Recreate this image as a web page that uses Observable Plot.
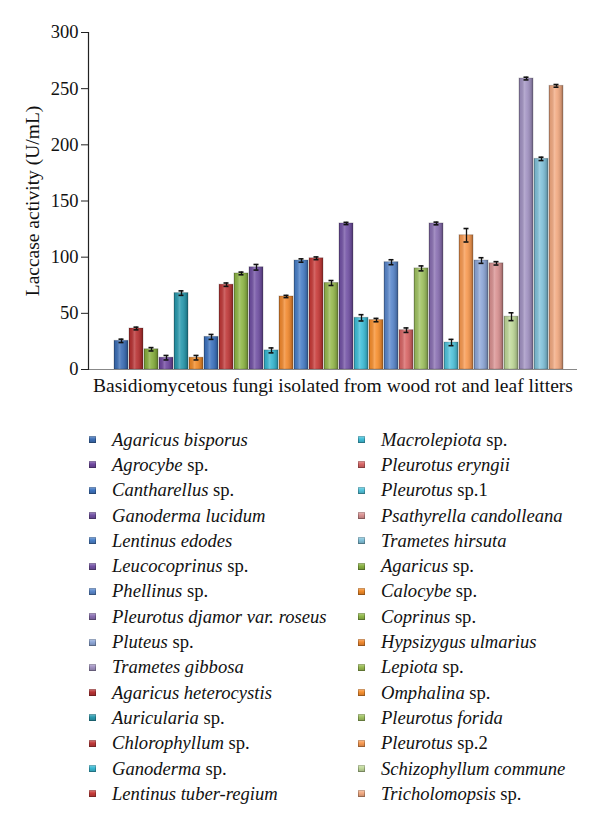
<!DOCTYPE html>
<html>
<head>
<meta charset="utf-8">
<script src="https://cdn.jsdelivr.net/npm/d3@7"></script>
<script src="https://cdn.jsdelivr.net/npm/@observablehq/plot@0.6"></script>
<style>
  html, body { margin: 0; padding: 0; background: #fff; }
  #chart svg { display: block; }
  #chart svg, #chart svg text { font-family: "Liberation Serif", "DejaVu Serif", serif !important; }
  #legend {
    display: grid;
    grid-template-rows: repeat(15, 25.3px);
    grid-auto-flow: column;
    grid-template-columns: 269px 240px;
    padding-left: 89px;
    padding-top: 27px;
    font-family: "Liberation Serif", "DejaVu Serif", serif;
    font-size: 18.6px;
    color: #111;
  }
  .item { display: flex; align-items: center; white-space: nowrap; }
  .sw {
    width: 7px; height: 7px; margin-right: 16px; flex: none;
    box-shadow: inset 0 0 0 1px rgba(0,0,0,0.25);
    position: relative;
  }
  .sw::after {
    content: ""; position: absolute; inset: 0;
    background: linear-gradient(180deg, rgba(255,255,255,0.35), rgba(255,255,255,0) 45%, rgba(0,0,0,0.2));
  }
  .it { font-style: italic; }
</style>
</head>
<body>
<div id="chart"></div>
<div id="legend"></div>
<script>
// Bars in plotted (alphabetical) order
const names = [
  "Agaricus bisporus", "Agaricus heterocystis", "Agaricus sp.", "Agrocybe sp.", "Auricularia sp.",
  "Calocybe sp.", "Cantharellus sp.", "Chlorophyllum sp.", "Coprinus sp.", "Ganoderma lucidum",
  "Ganoderma sp.", "Hypsizygus ulmarius", "Lentinus edodes", "Lentinus tuber-regium", "Lepiota sp.",
  "Leucocoprinus sp.", "Macrolepiota sp.", "Omphalina sp.", "Phellinus sp.", "Pleurotus eryngii",
  "Pleurotus forida", "Pleurotus djamor var. roseus", "Pleurotus sp.1", "Pleurotus sp.2", "Pluteus sp.",
  "Psathyrella candolleana", "Schizophyllum commune", "Trametes gibbosa", "Trametes hirsuta", "Tricholomopsis sp."
];
const values = [
  25.5, 36.5, 18, 10.5, 68,
  10.5, 29, 75.5, 85.5, 91,
  17, 65, 97, 99, 77,
  130, 46, 44, 95.5, 35,
  90, 130, 24, 119.5, 97,
  94.5, 47, 259, 187.5, 252.5
];
const errors = [
  1.5, 1.2, 1.5, 2, 2,
  2, 2.2, 1.5, 1.2, 2.5,
  2.2, 1, 1.5, 1.2, 2.2,
  1, 2.8, 1.5, 2.2, 2,
  2.2, 1.2, 2.8, 6, 2.5,
  1.5, 3.5, 1.2, 1.5, 1.2
];
const colors = [
  "#3d6fb6", "#b83334", "#88b040", "#7048a0", "#2a9aae",
  "#f08a28", "#3e74c0", "#c03a3a", "#90b848", "#7252a4",
  "#38b8d2", "#f28a30", "#4a80c8", "#c83c3a", "#98ba50",
  "#7454a6", "#40bed8", "#f79030", "#5b88cc", "#d86666",
  "#a0c262", "#8a70b2", "#52c4dc", "#f89a52", "#8fa8d8",
  "#d99292", "#c0d99a", "#a293c2", "#82c2da", "#f2aa82"
];
// Legend order (read down the left column, then the right one)
const legendOrder = [
  "Agaricus bisporus", "Agrocybe sp.", "Cantharellus sp.", "Ganoderma lucidum", "Lentinus edodes",
  "Leucocoprinus sp.", "Phellinus sp.", "Pleurotus djamor var. roseus", "Pluteus sp.", "Trametes gibbosa",
  "Agaricus heterocystis", "Auricularia sp.", "Chlorophyllum sp.", "Ganoderma sp.", "Lentinus tuber-regium",
  "Macrolepiota sp.", "Pleurotus eryngii", "Pleurotus sp.1", "Psathyrella candolleana", "Trametes hirsuta",
  "Agaricus sp.", "Calocybe sp.", "Coprinus sp.", "Hypsizygus ulmarius", "Lepiota sp.",
  "Omphalina sp.", "Pleurotus forida", "Pleurotus sp.2", "Schizophyllum commune", "Tricholomopsis sp."
];
const yTicks = [0, 50, 100, 150, 200, 250, 300];
const yLabel = "Laccase activity (U/mL)";
const xLabel = "Basidiomycetous fungi isolated from wood rot and leaf litters";

const data = names.map((name, i) => ({name, value: values[i], err: errors[i]}));
const serif = "Liberation Serif";

const plot = Plot.plot({
  width: 600,
  height: 400,
  marginLeft: 88,
  marginRight: 23,
  marginTop: 32,
  marginBottom: 31,
  style: {background: "#fff"},
  x: {type: "band", domain: names, paddingInner: 0.06, paddingOuter: 0, insetLeft: 13, axis: null},
  y: {domain: [0, 300], axis: null},
  color: {domain: names, range: colors},
  marks: [
    Plot.barY(data, {x: "name", y: "value", fill: "name", stroke: "#000", strokeOpacity: 0.2, strokeWidth: 1}),
    Plot.barY(data, {x: "name", y: "value", fill: "url(#cyl)"}),
    Plot.ruleX(data, {x: "name", y1: d => d.value - d.err, y2: d => d.value + d.err, stroke: "#111", strokeWidth: 1.3}),
    Plot.tickY(data, {x: "name", y: d => d.value - d.err, stroke: "#111", strokeWidth: 1.6, insetLeft: 4.5, insetRight: 4.5}),
    Plot.tickY(data, {x: "name", y: d => d.value + d.err, stroke: "#111", strokeWidth: 1.6, insetLeft: 4.5, insetRight: 4.5}),
    Plot.ruleY([0], {stroke: "#888", strokeWidth: 1.2}),
    Plot.axisY({ticks: yTicks, tickSize: 7, tickPadding: 3, fontSize: 18.5, fontFamily: serif, label: null, stroke: "#222", fill: "#111"}),
    Plot.frame({anchor: "left", stroke: "#222", strokeWidth: 1.2}),
    Plot.text([yLabel], {frameAnchor: "left", textAnchor: "middle", lineAnchor: "middle", rotate: -90, dx: -56, fontSize: 19.5, fontFamily: serif, fill: "#111"}),
    Plot.text([xLabel], {frameAnchor: "bottom", textAnchor: "middle", lineAnchor: "middle", dy: 16, fontSize: 19.5, fontFamily: serif, fill: "#111"})
  ]
});

// cylinder shading gradient
const ns = "http://www.w3.org/2000/svg";
const defs = document.createElementNS(ns, "defs");
defs.innerHTML = `<linearGradient id="cyl" x1="0" x2="1" y1="0" y2="0">
  <stop offset="0" stop-color="#000" stop-opacity="0.3"/>
  <stop offset="0.12" stop-color="#000" stop-opacity="0.06"/>
  <stop offset="0.38" stop-color="#fff" stop-opacity="0.22"/>
  <stop offset="0.55" stop-color="#fff" stop-opacity="0.08"/>
  <stop offset="0.85" stop-color="#000" stop-opacity="0.14"/>
  <stop offset="1" stop-color="#000" stop-opacity="0.34"/>
</linearGradient>`;
plot.insertBefore(defs, plot.firstChild);
document.getElementById("chart").appendChild(plot);

// legend
const colorOf = new Map(names.map((n, i) => [n, colors[i]]));
const legend = d3.select("#legend");
for (const n of legendOrder) {
  const item = legend.append("div").attr("class", "item");
  item.append("span").attr("class", "sw").style("background", colorOf.get(n));
  const label = item.append("span");
  const m = n.match(/^(.*?) (sp\.\d?)$/);
  if (m) {
    label.append("span").attr("class", "it").text(m[1]);
    label.append("span").text(" " + m[2]);
  } else {
    label.append("span").attr("class", "it").text(n);
  }
}
</script>
</body>
</html>
